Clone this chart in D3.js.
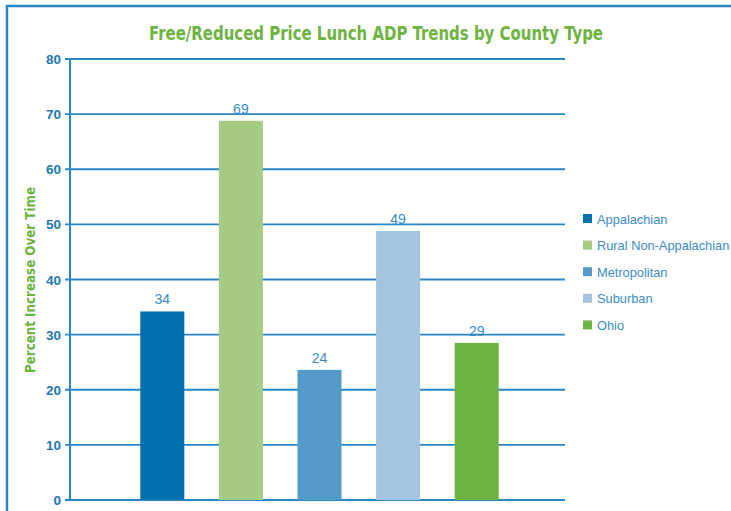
<!DOCTYPE html>
<meta charset="utf-8">
<style>
body { margin: 0; background: #fff; }
svg { display: block; }
text { font-family: "Liberation Sans", Arial, sans-serif; }
.cond { font-family: "DejaVu Sans Condensed", "Liberation Sans Narrow", sans-serif; font-weight: bold; }
</style>
<body>
<svg width="731" height="511"></svg>
<script src="https://d3js.org/d3.v7.min.js"></script>
<script>
var categories = ["Appalachian", "Rural Non-Appalachian", "Metropolitan", "Suburban", "Ohio"];
var values = [34.2, 68.8, 23.6, 48.8, 28.5];
var labels = ["34", "69", "24", "49", "29"];
var colors = ["#0070ae", "#a5cb85", "#549bc9", "#a6c4e0", "#6db33f"];
var yTicks = [0, 10, 20, 30, 40, 50, 60, 70, 80];

var blue = "#2a86c2";

var svg = d3.select("svg");

// frame round the page
svg.append("path")
    .attr("d", "M7,511V6H731")
    .attr("fill", "none")
    .attr("stroke", blue)
    .attr("stroke-width", 2.5);

svg.append("text")
    .attr("class", "cond")
    .attr("x", 376)
    .attr("y", 40)
    .attr("text-anchor", "middle")
    .attr("fill", "#6db33f")
    .attr("font-size", 20)
    .attr("textLength", 454)
    .attr("lengthAdjust", "spacingAndGlyphs")
    .text("Free/Reduced Price Lunch ADP Trends by County Type");

var y = d3.scaleLinear()
    .domain([0, 80])
    .range([500, 59]);

var x = d3.scaleBand()
    .domain(categories)
    .range([123, 516])
    .paddingInner(0.44)
    .paddingOuter(0.22);

// grid lines
svg.append("g").selectAll("line")
  .data(yTicks)
  .enter().append("line")
    .attr("x1", 65)
    .attr("x2", 565)
    .attr("y1", function(d) { return y(d); })
    .attr("y2", function(d) { return y(d); })
    .attr("stroke", blue)
    .attr("stroke-width", 1.8);

svg.append("line")
    .attr("x1", 70).attr("x2", 70)
    .attr("y1", y(80)).attr("y2", y(0) + 1)
    .attr("stroke", blue)
    .attr("stroke-width", 2);

svg.append("g").selectAll("text")
  .data(yTicks)
  .enter().append("text")
    .attr("x", 61)
    .attr("y", function(d) { return y(d) + 5; })
    .attr("text-anchor", "end")
    .attr("font-size", 13.5)
    .attr("font-weight", "bold")
    .attr("fill", "#2277b5")
    .text(function(d) { return d; });

svg.append("text")
    .attr("class", "cond")
    .attr("transform", "translate(35,280) rotate(-90)")
    .attr("text-anchor", "middle")
    .attr("fill", "#6db33f")
    .attr("font-size", 14.5)
    .attr("textLength", 186)
    .attr("lengthAdjust", "spacingAndGlyphs")
    .text("Percent Increase Over Time");

// bars
svg.append("g").selectAll("rect")
  .data(values)
  .enter().append("rect")
    .attr("x", function(d, i) { return x(categories[i]); })
    .attr("y", function(d) { return y(d); })
    .attr("width", x.bandwidth())
    .attr("height", function(d) { return y(0) - y(d); })
    .attr("fill", function(d, i) { return colors[i]; });

svg.append("g").selectAll("text")
  .data(values)
  .enter().append("text")
    .attr("x", function(d, i) { return x(categories[i]) + x.bandwidth() / 2; })
    .attr("y", function(d) { return y(d) - 7; })
    .attr("text-anchor", "middle")
    .attr("font-size", 14)
    .attr("fill", "#3a8cc4")
    .text(function(d, i) { return labels[i]; });

// legend
var legend = svg.append("g").selectAll("g")
  .data(categories)
  .enter().append("g")
    .attr("transform", function(d, i) { return "translate(583," + (219 + i * 26.6) + ")"; });

legend.append("rect")
    .attr("x", 0)
    .attr("y", -5)
    .attr("width", 9)
    .attr("height", 9)
    .attr("fill", function(d, i) { return colors[i]; });

legend.append("text")
    .attr("x", 14)
    .attr("y", 4.5)
    .attr("font-size", 12.8)
    .attr("fill", "#3a8cc4")
    .text(function(d) { return d; });
</script>
</body>
